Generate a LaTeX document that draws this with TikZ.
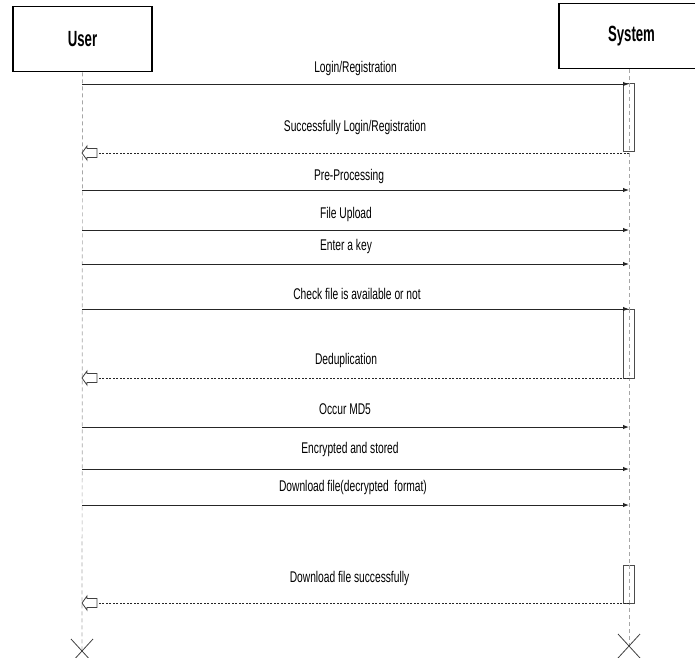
\documentclass[tikz,border=0pt]{standalone}
\usepackage{fontspec}
\setmainfont[FakeStretch=0.66]{Liberation Sans}
\newfontfamily\titlefont[FakeStretch=0.6]{Liberation Sans}
\usetikzlibrary{arrows.meta}
\begin{document}
\begin{tikzpicture}[x=1pt,y=-1pt,
  actor/.style={draw,line width=1.6pt,minimum width=139pt,minimum height=65pt,font=\titlefont\fontsize{22}{24}\selectfont\bfseries},
  life/.style={draw=gray!70,line width=0.7pt,dash pattern=on 4pt off 3pt},
  msg/.style={draw=black!85,line width=1pt,-{Latex[length=6pt,width=4.5pt]}},
  ret/.style={draw=black!85,line width=0.9pt,dash pattern=on 2pt off 1.5pt},
  act/.style={draw=black!70,fill=white,line width=0.7pt,minimum width=11pt,inner sep=0pt},
  lbl/.style={font=\fontsize{15.5}{17}\selectfont,inner sep=0pt},
  openhead/.style={draw=black!75,fill=white,line width=0.8pt}]
\useasboundingbox (0,0) rectangle (695,657);
% actors
\node[actor] (user) at (82.5,39) {User};
\node[actor,minimum width=145pt] (sys) at (631.5,36) {System};
% lifelines
\coordinate (uend) at (82,651);
\coordinate (send) at (629,647);
\draw[life] (user.south) -- (uend);
\draw[life] (sys.south -| send) -- (send);
% activations
\node[act,minimum height=68pt] (a1) at (628.5,117) {};
\node[act,minimum height=69pt] (a2) at (628.5,343.5) {};
\node[act,minimum height=38pt] (a3) at (628.5,584) {};
\draw[life] (a1.north -| send) -- (a1.south -| send);
\draw[life] (a2.north -| send) -- (a2.south -| send);
\draw[life] (a3.north -| send) -- (a3.south -| send);
% message endpoints
\foreach \n/\y in {m1/84,m2/190,m3/230,m4/264,m5/309,m6/427,m7/469,m8/505}{
  \coordinate (\n u) at (82,\y);
  \coordinate (\n s) at (629,\y);
}
\foreach \n/\y in {r1/153,r2/378,r3/603}{
  \coordinate (\n u) at (97,\y);
  \coordinate (\n s) at (629,\y);
}
\draw[msg] (m1u) -- (m1s);
\draw[msg] (m2u) -- (m2s);
\draw[msg] (m3u) -- (m3s);
\draw[msg] (m4u) -- (m4s);
\draw[msg] (m5u) -- (m5s);
\draw[msg] (m6u) -- (m6s);
\draw[msg] (m7u) -- (m7s);
\draw[msg] (m8u) -- (m8s);
\draw[ret] (r1s) -- (r1u);
\draw[ret] (r2s) -- (r2u);
\draw[ret] (r3s) -- (r3u);
% hollow arrowheads
\foreach \r in {r1,r2,r3}{
  \draw[openhead] (\r u) ++(0,-4.5) -- ++(-10,0) -- ++(0,-2.5) -- ++(-5,7) -- ++(5,7) -- ++(0,-2.5) -- ++(10,0) -- cycle;
}
% labels
\node[lbl] (l1) at (355.5,68) {Login/Registration};
\node[lbl] (l2) at (355,127) {Successfully Login/Registration};
\node[lbl] (l3) at (349,176) {Pre-Processing};
\node[lbl] (l4) at (346,214) {File Upload};
\node[lbl] (l5) at (346,246) {Enter a key};
\node[lbl] (l6) at (357,294) {Check file is available or not};
\node[lbl] (l7) at (346,360) {Deduplication};
\node[lbl] (l8) at (345,409) {Occur MD5};
\node[lbl] (l9) at (350,449) {Encrypted and stored};
\node[lbl] (l10) at (353,487) {Download file(decrypted\ \ format)};
\node[lbl] (l11) at (349.5,578) {Download file successfully};
% destruction marks
\draw[black!75,line width=0.8pt] (uend) ++(-11,-12) -- ++(22,24) ++(0,-24) -- ++(-22,24);
\draw[black!75,line width=0.8pt] (send) ++(-11,-13) -- ++(22,24) ++(0,-24) -- ++(-22,24);
\end{tikzpicture}
\end{document}
